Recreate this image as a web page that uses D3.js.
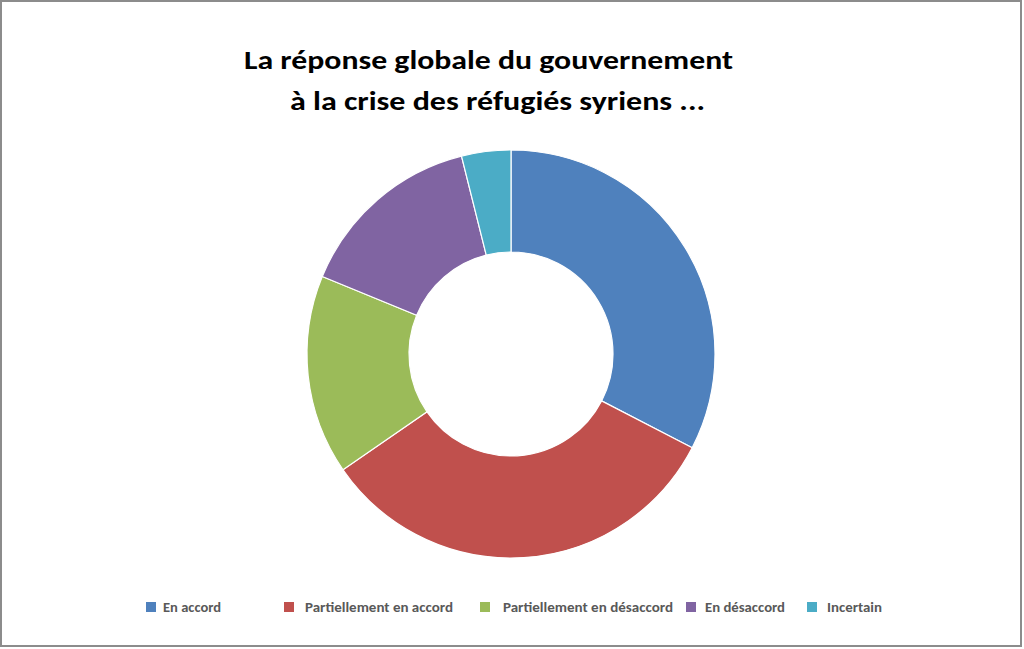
<!DOCTYPE html>
<html><head><meta charset="utf-8">
<script src="https://cdn.jsdelivr.net/npm/d3@7"></script>
<style>body{margin:0;background:#fff}svg{display:block}</style>
</head><body>
<svg id="c" width="1024" height="649"></svg>
<script>
const categories = ["En accord","Partiellement en accord","Partiellement en désaccord","En désaccord","Incertain"];
const values = [32.6, 32.8, 15.8, 14.9, 3.9];
const colors = ["#4F81BD","#C0504D","#9BBB59","#8064A2","#4BACC6"];
const titleLines = ["La réponse globale du gouvernement","à la crise des réfugiés syriens ..."];

const svg = d3.select("#c");
svg.append("rect").attr("x",1).attr("y",1).attr("width",1020).attr("height",645)
  .attr("fill","#fff").attr("stroke","#8c8c8c").attr("stroke-width",2);

const font = "Carlito, 'Open Sans', 'Noto Sans', sans-serif";
const tx = [244, 290], ty = [69, 110];
titleLines.forEach((t,i)=>{
  svg.append("text").attr("x",tx[i]).attr("y",ty[i]).text(t)
    .attr("font-family",font).attr("font-weight","bold").attr("font-size",26)
    .attr("fill","#000").attr("textLength", i===0?489:415).attr("lengthAdjust","spacingAndGlyphs");
});

const cx = 511, cy = 354, R = 204, r = 102;
const pie = d3.pie().sort(null).value(d=>d)(values);
const arc = d3.arc().innerRadius(r).outerRadius(R);
const g = svg.append("g").attr("transform",`translate(${cx},${cy})`);
g.selectAll("path").data(pie).join("path").attr("d",arc)
  .attr("fill",(d,i)=>colors[i]).attr("stroke","#fff").attr("stroke-width",1.2);

const mx = [146, 284, 480, 686, 807];
const txs = [163, 305, 503, 705, 827];
const widths = [58, 148, 170, 80, 55];
categories.forEach((c,i)=>{
  svg.append("rect").attr("x",mx[i]).attr("y",602).attr("width",10).attr("height",10).attr("fill",colors[i]);
  svg.append("text").attr("x",txs[i]).attr("y",612).text(c)
    .attr("font-family",font).attr("font-size",13).attr("font-weight","bold").attr("fill","#595959")
    .attr("textLength",widths[i]).attr("lengthAdjust","spacingAndGlyphs");
});
</script>
</body></html>
